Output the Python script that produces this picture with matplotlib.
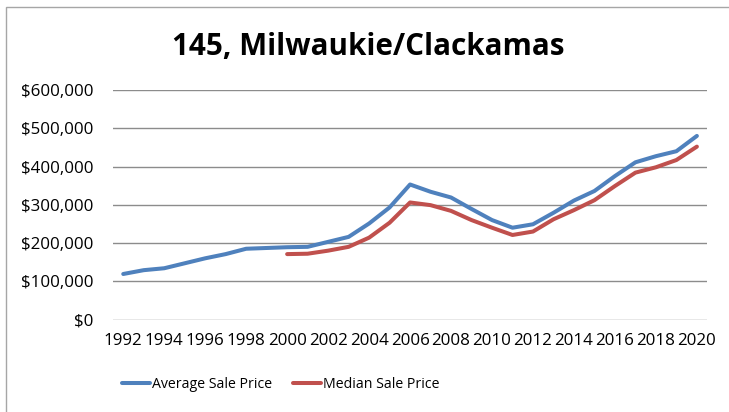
import matplotlib.pyplot as plt
from matplotlib.ticker import FuncFormatter
from matplotlib.patches import Rectangle

years = list(range(1992, 2021))
avg_price = [119000, 129000, 134000, 147000, 160000, 171000, 185000, 187000, 189000, 190000,
             203000, 216000, 251000, 293000, 353000, 334000, 319000, 289000, 260000, 240000,
             249000, 279000, 311000, 336000, 375000, 411000, 427000, 440000, 480000]
median_years = list(range(2000, 2021))
median_price = [171000, 172000, 180000, 190000, 214000, 253000, 306000, 299000, 284000, 260000,
                240000, 221000, 230000, 262000, 286000, 312000, 349000, 384000, 398000, 417000,
                452000]
tick_years = list(range(1992, 2021, 2))

plt.rcParams['font.family'] = ['Open Sans', 'DejaVu Sans']

fig = plt.figure(figsize=(7.29, 4.12), dpi=100)
ax = fig.add_axes([0.155, 0.2245, 0.815, 0.557])

ax.plot(years, avg_price, color='#4F81BD', linewidth=2.9, label='Average Sale Price',
        solid_capstyle='round')
ax.plot(median_years, median_price, color='#C0504D', linewidth=2.9, label='Median Sale Price',
        solid_capstyle='round')

ax.set_ylim(0, 600000)
ax.set_yticks(range(0, 600001, 100000))
ax.yaxis.set_major_formatter(FuncFormatter(lambda v, p: '${:,.0f}'.format(v)))
ax.set_xlim(1991.5, 2020.5)
ax.set_xticks(tick_years)
ax.set_xticklabels([str(y) for y in tick_years])
ax.tick_params(axis='both', length=0, labelsize=12.2, colors='black')
ax.tick_params(axis='x', pad=10)
ax.tick_params(axis='y', pad=14)
ax.grid(axis='y', color='#8C8C8C', linewidth=1.0)
ax.set_axisbelow(True)
for s in ax.spines.values():
    s.set_visible(False)

fig.text(0.505, 0.885, '145, Milwaukie/Clackamas', ha='center', va='center',
         fontsize=21.3, fontweight='bold')

ax.legend(loc='center', bbox_to_anchor=(0.385, 0.066), bbox_transform=fig.transFigure,
          ncol=2, frameon=False, fontsize=10.2, handlelength=2.0, columnspacing=1.5,
          handletextpad=0.12)

fig.patches.append(Rectangle((0.008, -0.1), 1.2, 1.083, transform=fig.transFigure,
                             fill=False, edgecolor='#A6A6A6', linewidth=1.0))

plt.savefig('out.png', dpi=100)
plt.close()
